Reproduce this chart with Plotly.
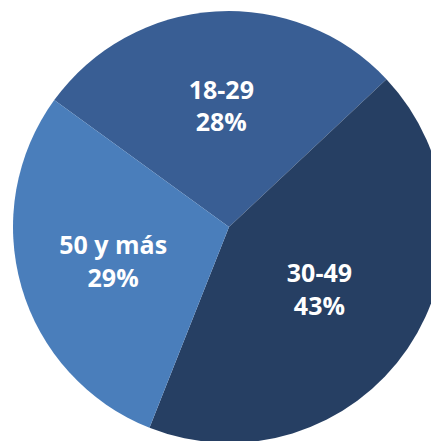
import plotly.graph_objects as go

labels = ["18-29", "30-49", "50 y más"]
values = [28, 43, 29]
colors = ["#395E94", "#263F63", "#4A7EBB"]

fig = go.Figure(go.Pie(
    labels=labels,
    values=values,
    sort=False,
    direction="clockwise",
    rotation=-54,
    marker=dict(colors=colors, line=dict(width=0)),
    texttemplate="<b>%{label}</b><br><b>%{percent:.0%}</b>",
    textposition="inside",
    insidetextorientation="horizontal",
    textfont=dict(family="Open Sans", size=25, color="white"),
    showlegend=False,
    hoverinfo="none",
))

fig.update_layout(
    width=439, height=441,
    margin=dict(l=5, r=2, t=3, b=6),
    paper_bgcolor="white",
    plot_bgcolor="white",
    uniformtext=dict(minsize=25, mode="show"),
)

fig.write_html("out.html")
